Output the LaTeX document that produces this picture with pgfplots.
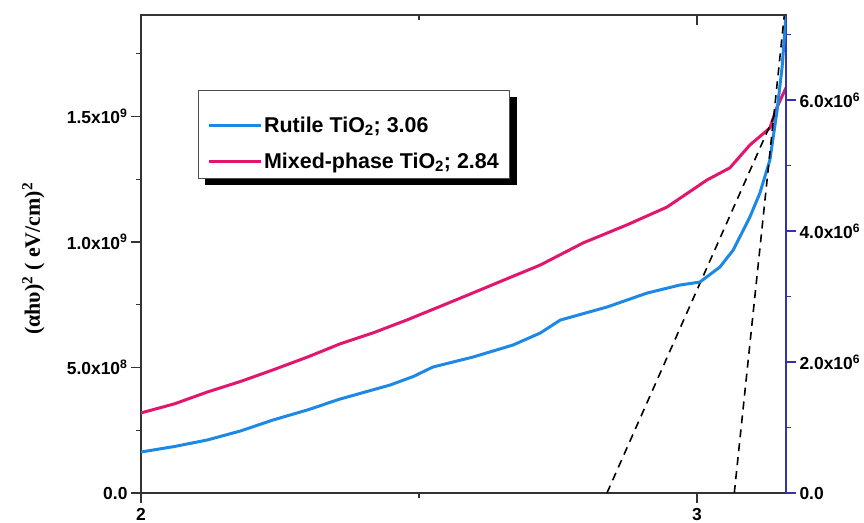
\documentclass[border=0pt]{standalone}
\usepackage{fontspec}
\setmainfont{Liberation Serif}
\setsansfont{Liberation Sans}
\usepackage{pgfplots}
\pgfplotsset{compat=1.18}
\usetikzlibrary{backgrounds}

\definecolor{rutile}{RGB}{30,136,229}
\definecolor{mixed}{RGB}{226,22,108}
\definecolor{raxis}{RGB}{52,52,168}

\newcommand\tickfont{\sffamily\bfseries\fontsize{17.5}{20}\selectfont}
\newcommand\legfont{\sffamily\bfseries\fontsize{21.5}{24}\selectfont}

% mixed-phase TiO2, left axis
\pgfplotstableread{
x      y
2.000  3.19e8
2.060  3.55e8
2.119  4.02e8
2.180  4.45e8
2.237  4.90e8
2.300  5.42e8
2.358  5.94e8
2.420  6.40e8
2.478  6.89e8
2.540  7.45e8
2.597  7.97e8
2.660  8.55e8
2.718  9.08e8
2.795  9.96e8
2.874  1.068e9
2.946  1.139e9
3.018  1.247e9
3.059  1.295e9
3.095  1.386e9
3.131  1.454e9
3.144  1.538e9
3.160  1.614e9
}\mixed

% rutile TiO2, right axis
\pgfplotstableread{
x      y
2.000  6.26e5
2.060  7.10e5
2.119  8.09e5
2.180  9.50e5
2.237  1.114e6
2.300  1.270e6
2.358  1.435e6
2.448  1.649e6
2.490  1.780e6
2.525  1.924e6
2.597  2.076e6
2.669  2.260e6
2.718  2.443e6
2.754  2.641e6
2.838  2.840e6
2.910  3.053e6
2.969  3.176e6
3.005  3.221e6
3.041  3.450e6
3.065  3.710e6
3.095  4.214e6
3.113  4.580e6
3.131  5.084e6
3.144  5.847e6
3.153  6.504e6
3.160  7.298e6
}\rutile

\begin{document}
\begin{tikzpicture}
\begin{axis}[
  name=main,
  scale only axis, width=645bp, height=478bp,
  xmin=2, xmax=3.16, ymin=0, ymax=1.904e9,
  xtick pos=bottom, ytick pos=left,
  tick align=outside,
  xtick={2,3}, xticklabels={2,3}, minor xtick={2.5},
  ytick={0,5e8,1e9,1.5e9},
  yticklabels={0.0, 5.0x10\textsuperscript{8}, 1.0x10\textsuperscript{9}, 1.5x10\textsuperscript{9}},
  minor ytick={2.5e8,7.5e8,1.25e9,1.75e9},
  major tick length=10bp, minor tick length=5bp,
  tick style={line width=1.3bp, black!80},
  axis line style={line width=1.5bp, black!80},
  ticklabel style={font=\tickfont},
  xticklabel style={yshift=-2bp},
  scaled y ticks=false,
  ylabel={\bfseries (αhυ)\textsuperscript{2} ( eV/cm)\textsuperscript{2}},
  ylabel style={font=\fontsize{22}{26}\selectfont, at={(axis description cs:-0.167,0.49)}, anchor=center},
  legend style={name=leg, at={(axis description cs:0.088,0.843)}, anchor=north west,
    draw=black!70, line width=0.8bp, fill=white,
    font=\legfont, inner xsep=9bp, inner ysep=6bp, row sep=15bp},
  legend cell align=left,
  legend image code/.code={\draw[#1, line width=3bp] (0bp,0bp) -- (52bp,0bp);},
]
\addlegendimage{legend image code/.code={\draw[rutile, line width=3bp] (0bp,-9bp) -- (52bp,-9bp);}}
\addlegendentry{\rule{0pt}{34bp}Rutile TiO\textsubscript{2}; 3.06}
\addplot[mixed, line width=3bp] table {\mixed};
\addlegendentry{Mixed-phase TiO\textsubscript{2}; 2.84}
\addplot[black, line width=1.6bp, dash pattern=on 8bp off 6bp] coordinates {(2.838,0) (3.146,1.538e9)};
\end{axis}

\begin{axis}[
  scale only axis, width=645bp, height=478bp,
  xmin=2, xmax=3.16, ymin=0, ymax=7.30e6,
  axis y line*=right, axis x line=none,
  tick align=outside,
  ytick={0,2e6,4e6,6e6},
  yticklabels={0.0, 2.0x10\textsuperscript{6}, 4.0x10\textsuperscript{6}, 6.0x10\textsuperscript{6}},
  minor ytick={1e6,3e6,5e6,7e6},
  major tick length=10bp, minor tick length=5bp,
  tick style={line width=1.3bp, raxis},
  axis line style={line width=1.5bp, raxis, -},
  ticklabel style={font=\tickfont, black},
  scaled y ticks=false,
]
\addplot[rutile, line width=3bp] table {\rutile};
\addplot[black, line width=1.6bp, dash pattern=on 8bp off 6bp] coordinates {(3.067,0) (3.157,7.30e6)};
\end{axis}

\begin{axis}[
  scale only axis, width=645bp, height=478bp,
  xmin=2, xmax=3.16, ymin=0, ymax=1,
  axis x line*=top, axis y line=none,
  tick align=inside,
  xtick={3}, minor xtick={2.5}, xticklabels={},
  major tick length=10bp, minor tick length=5bp,
  tick style={line width=1.3bp, black!80},
  axis line style={line width=1.5bp, black!80, -},
]
\end{axis}

\begin{scope}[on background layer]
\fill[black] ([xshift=7bp,yshift=-7bp]leg.south west) rectangle ([xshift=7bp,yshift=-7bp]leg.north east);
\end{scope}

\pgfresetboundingbox
\path[use as bounding box] ([xshift=-141bp,yshift=-30bp]main.south west) rectangle ([xshift=78bp,yshift=15bp]main.north east);
\end{tikzpicture}
\end{document}
